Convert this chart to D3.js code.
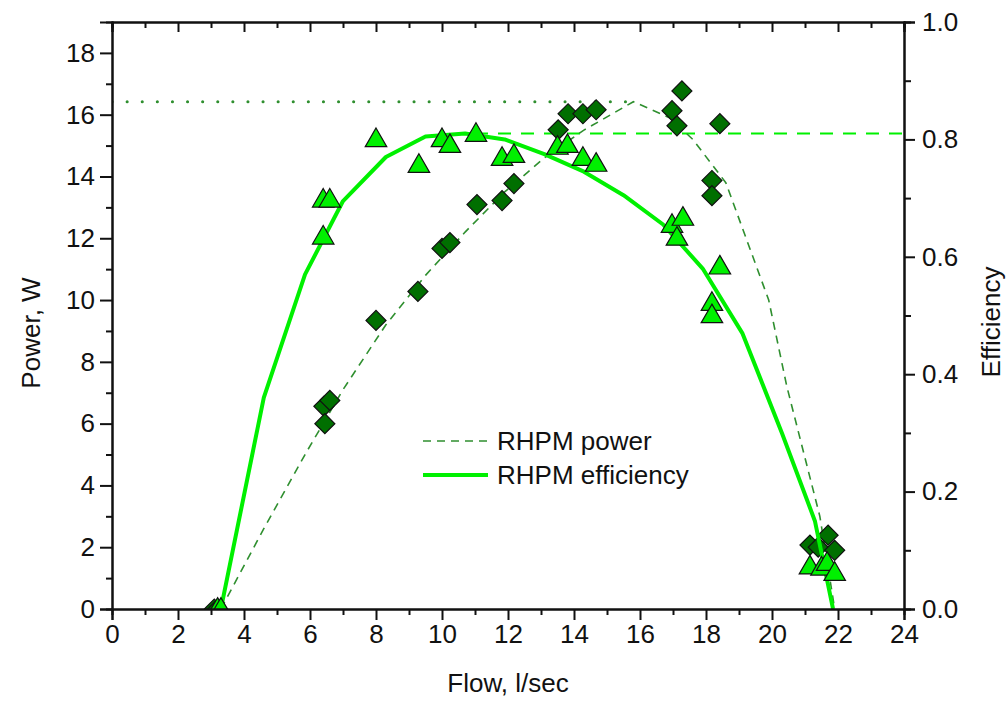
<!DOCTYPE html>
<html>
<head>
<meta charset="utf-8">
<script src="https://cdn.jsdelivr.net/npm/d3@7/dist/d3.min.js"></script>
<style>
  body { margin: 0; background: #fff; }
  svg { display: block; font-family: "Liberation Sans", Arial, sans-serif; }
  .axis path, .axis line { stroke: #111; stroke-width: 2; }
  .axis text { fill: #111; }
</style>
</head>
<body>
<svg id="chart" width="1008" height="701"></svg>
<script>

// measured efficiency points (triangles, right axis)
const effFlow = [3.2, 3.3, 6.4, 6.4, 6.6, 8.0, 9.3, 10.0, 10.24, 11.03, 11.82, 12.18, 13.5, 13.8, 14.27, 14.67,
                 16.97, 17.12, 17.3, 18.18, 18.18, 18.42, 21.15, 21.5, 21.67, 21.9];
const effValue = [0, 0, 0.697, 0.634, 0.697, 0.80, 0.756, 0.80, 0.79, 0.809, 0.768, 0.773, 0.787, 0.79, 0.768, 0.758,
                  0.654, 0.632, 0.666, 0.521, 0.50, 0.583, 0.072, 0.07, 0.078, 0.061];

// measured power points (diamonds, left axis)
const powerFlow = [3.1, 3.2, 6.42, 6.45, 6.6, 8.0, 9.27, 10.0, 10.24, 11.06, 11.82, 12.18, 13.52, 13.82, 14.27, 14.67,
                   16.97, 17.12, 17.27, 18.18, 18.18, 18.42, 21.15, 21.4, 21.7, 21.9];
const powerValue = [0, 0, 6.56, 6.0, 6.75, 9.34, 10.28, 11.67, 11.86, 13.09, 13.22, 13.77, 15.51, 16.03, 16.03, 16.16,
                    16.13, 15.64, 16.77, 13.87, 13.38, 15.71, 2.07, 2.0, 2.39, 1.9];

// RHPM model curves
const curveEffFlow = [3.3, 4.6, 5.85, 7.0, 8.3, 9.5, 10.7, 11.9, 13.1, 14.3, 15.5, 16.7, 17.9, 19.1, 20.3, 21.3, 21.85];
const curveEffValue = [0, 0.36, 0.57, 0.695, 0.77, 0.805, 0.81, 0.80, 0.775, 0.745, 0.705, 0.655, 0.58, 0.47, 0.30, 0.15, 0];

const curvePowerFlow = [3.3, 4.6, 5.85, 7.0, 8.3, 9.5, 10.7, 11.9, 13.1, 14.3, 15.8, 16.9, 17.6, 18.6, 19.9, 20.45, 21.45, 21.9];
const curvePowerValue = [0, 2.6, 5.0, 7.1, 9.2, 10.8, 12.2, 13.5, 14.6, 15.5, 16.42, 15.9, 15.2, 13.8, 10.0, 7.2, 3.0, 0];

// reference levels
const maxPower = 16.42;
const maxPowerFlow = 15.8;
const maxEff = 0.81;
const maxEffFlow = 11.0;

const flowTicks = d3.range(0, 25, 2);
const powerTicks = d3.range(0, 19, 2);
const effTicks = [0.0, 0.2, 0.4, 0.6, 0.8, 1.0];
const legendLabels = ['RHPM power', 'RHPM efficiency'];

//#region layout
const plotLeft = 112, plotRight = 904, plotTop = 22, plotBottom = 609;
const fontSize = 26;
const lime = '#00f000';
const darkGreen = '#006f00';
const midGreen = '#2f8f2f';
//#endregion

const svg = d3.select('#chart');

const x = d3.scaleLinear().domain([0, 24]).range([plotLeft, plotRight]);
const yP = d3.scaleLinear().domain([0, 19]).range([plotBottom, plotTop]);
const yE = d3.scaleLinear().domain([0, 1]).range([plotBottom, plotTop]);

svg.append('clipPath').attr('id', 'plotClip')
   .append('rect')
   .attr('x', plotLeft).attr('y', plotTop)
   .attr('width', plotRight - plotLeft).attr('height', plotBottom - plotTop);

const plot = svg.append('g').attr('clip-path', 'url(#plotClip)');

// max power dotted line
plot.append('line')
    .attr('x1', x(0)).attr('x2', x(maxPowerFlow))
    .attr('y1', yP(maxPower)).attr('y2', yP(maxPower))
    .attr('stroke', midGreen).attr('stroke-width', 3)
    .attr('stroke-linecap', 'round')
    .attr('stroke-dasharray', '0.1,15');

// max efficiency dashed line
plot.append('line')
    .attr('x1', x(maxEffFlow)).attr('x2', x(24))
    .attr('y1', yE(maxEff)).attr('y2', yE(maxEff))
    .attr('stroke', lime).attr('stroke-width', 2)
    .attr('stroke-dasharray', '13,10');

// power curve
const powerLine = d3.line().x(i => x(curvePowerFlow[i])).y(i => yP(curvePowerValue[i]));
plot.append('path')
    .attr('d', powerLine(d3.range(curvePowerFlow.length)))
    .attr('fill', 'none')
    .attr('stroke', midGreen).attr('stroke-width', 1.6)
    .attr('stroke-dasharray', '8,6');

// diamonds
const diamond = d3.symbol().type(d3.symbolSquare).size(200);
plot.selectAll('.powerPt')
    .data(d3.range(powerFlow.length))
    .join('path')
    .attr('class', 'powerPt')
    .attr('d', diamond)
    .attr('transform', i => `translate(${x(powerFlow[i])},${yP(powerValue[i])}) rotate(45)`)
    .attr('fill', darkGreen)
    .attr('stroke', '#111').attr('stroke-width', 1.2);

// efficiency curve
const effLine = d3.line().x(i => x(curveEffFlow[i])).y(i => yE(curveEffValue[i]));
plot.append('path')
    .attr('d', effLine(d3.range(curveEffFlow.length)))
    .attr('fill', 'none')
    .attr('stroke', lime).attr('stroke-width', 4)
    .attr('stroke-linejoin', 'round');

// triangles
const triangle = d3.symbol().type(d3.symbolTriangle).size(200);
plot.selectAll('.effPt')
    .data(d3.range(effFlow.length))
    .join('path')
    .attr('class', 'effPt')
    .attr('d', triangle)
    .attr('transform', i => `translate(${x(effFlow[i])},${yE(effValue[i]) + 1})`)
    .attr('fill', lime)
    .attr('stroke', '#111').attr('stroke-width', 1.2);

//#region axes
svg.append('g').attr('class', 'axis')
   .attr('transform', `translate(0,${plotBottom})`)
   .call(d3.axisBottom(x).tickValues(d3.range(1, 24, 2)).tickSize(6).tickFormat(''));
svg.append('g').attr('class', 'axis')
   .attr('transform', `translate(0,${plotBottom})`)
   .call(d3.axisBottom(x).tickValues(flowTicks).tickSize(11).tickPadding(5).tickFormat(d3.format('d')));

svg.append('g').attr('class', 'axis')
   .attr('transform', `translate(0,${plotTop})`)
   .call(d3.axisBottom(x).tickValues(d3.range(1, 24, 2)).tickSize(6).tickFormat(''));
svg.append('g').attr('class', 'axis')
   .attr('transform', `translate(0,${plotTop})`)
   .call(d3.axisBottom(x).tickValues(flowTicks).tickSize(10).tickFormat(''));

svg.append('g').attr('class', 'axis')
   .attr('transform', `translate(${plotLeft},0)`)
   .call(d3.axisLeft(yP).tickValues(d3.range(1, 19, 2)).tickSize(6).tickFormat(''));
svg.append('g').attr('class', 'axis')
   .attr('transform', `translate(${plotLeft},0)`)
   .call(d3.axisLeft(yP).tickValues(powerTicks).tickSize(12).tickPadding(5).tickFormat(d3.format('d')));

svg.append('g').attr('class', 'axis')
   .attr('transform', `translate(${plotRight},0)`)
   .call(d3.axisRight(yE).tickValues(d3.range(0.1, 1, 0.2)).tickSize(7).tickFormat(''));
svg.append('g').attr('class', 'axis')
   .attr('transform', `translate(${plotRight},0)`)
   .call(d3.axisRight(yE).tickValues(effTicks).tickSize(11).tickPadding(7).tickFormat(d3.format('.1f')));

svg.selectAll('.axis .domain').attr('stroke-width', 2.2);
svg.selectAll('.axis text').attr('font-size', fontSize).attr('font-family', null);
//#endregion

// axis titles
svg.append('text')
   .attr('x', (plotLeft + plotRight) / 2).attr('y', 692)
   .attr('text-anchor', 'middle')
   .attr('font-size', fontSize).attr('fill', '#111')
   .text('Flow, l/sec');

svg.append('text')
   .attr('transform', 'translate(40,333) rotate(-90)')
   .attr('text-anchor', 'middle')
   .attr('font-size', fontSize).attr('fill', '#111')
   .text('Power, W');

svg.append('text')
   .attr('transform', 'translate(1000,322) rotate(-90)')
   .attr('text-anchor', 'middle')
   .attr('font-size', fontSize).attr('fill', '#111')
   .text('Efficiency');

// legend
const legend = svg.append('g').attr('transform', 'translate(423,441)');
legend.append('line')
      .attr('x1', 0).attr('x2', 65).attr('y1', 0).attr('y2', 0)
      .attr('stroke', midGreen).attr('stroke-width', 1.6)
      .attr('stroke-dasharray', '8,6');
legend.append('line')
      .attr('x1', 0).attr('x2', 65).attr('y1', 34).attr('y2', 34)
      .attr('stroke', lime).attr('stroke-width', 4);
legend.selectAll('.legText')
      .data(legendLabels)
      .join('text')
      .attr('class', 'legText')
      .attr('x', 74)
      .attr('y', (d, i) => i * 34 + 9)
      .attr('font-size', fontSize).attr('fill', '#111')
      .text(d => d);

</script>
</body>
</html>
